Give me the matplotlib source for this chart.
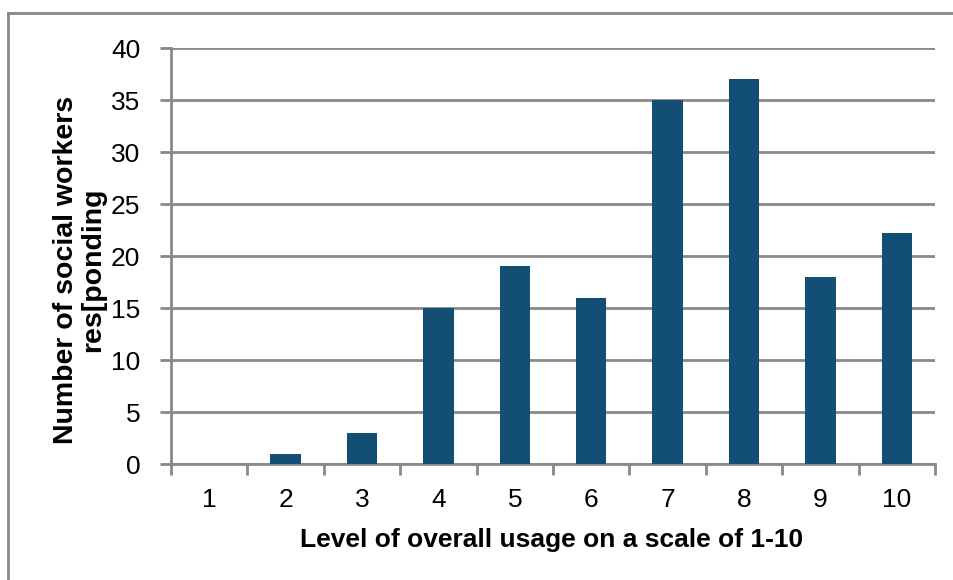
import matplotlib
matplotlib.use("Agg")
import matplotlib.pyplot as plt
from matplotlib.lines import Line2D

categories = ["1", "2", "3", "4", "5", "6", "7", "8", "9", "10"]
values = [0, 1, 3, 15, 19, 16, 35, 37, 18, 22.2]
y_ticks = [0, 5, 10, 15, 20, 25, 30, 35, 40]

plt.rcParams['font.family'] = ['Liberation Sans', 'DejaVu Sans']

W, H = 954, 580
fig = plt.figure(figsize=(W / 100, H / 100), dpi=100)
fig.patch.set_facecolor("white")

ax = fig.add_axes([171 / W, 1 - 464 / H, (935 - 171) / W, (464 - 48) / H])

bar_color = "#134f74"
grid_color = "#898989"

x = list(range(len(categories)))
ax.bar(x, values, width=0.4, color=bar_color, zorder=3)

ax.set_xlim(-0.5, len(categories) - 0.5)
ax.set_ylim(0, 40)
ax.set_yticks(y_ticks)
ax.set_yticklabels([str(v) for v in y_ticks], fontsize=19)
ax.set_xticks(x)
ax.set_xticklabels(categories, fontsize=19)

ax.yaxis.grid(True, color=grid_color, linewidth=2, zorder=0)
ax.set_axisbelow(True)

for s in ["top", "right"]:
    ax.spines[s].set_visible(False)
for s in ["left", "bottom"]:
    ax.spines[s].set_color(grid_color)
    ax.spines[s].set_linewidth(2)

ax.tick_params(axis="y", length=8, width=2, color=grid_color, pad=14)
ax.tick_params(axis="x", length=0, pad=17)
ax.set_xticks([i - 0.5 for i in range(len(categories) + 1)], minor=True)
ax.tick_params(axis="x", which="minor", length=8, width=2, color=grid_color)

fig.text(552 / W, 1 - 540 / H, "Level of overall usage on a scale of 1-10",
         fontsize=19, fontweight="bold", ha="center", va="center")
fig.text(80 / W, 1 - 270 / H, "Number of social workers\nres[ponding",
         fontsize=20.5, fontweight="bold", ha="center", va="center",
         rotation=90, linespacing=1.05, multialignment="center")

fig.add_artist(Line2D([8 / W, 1], [1 - 13 / H, 1 - 13 / H], color="#878787",
                      linewidth=2, transform=fig.transFigure))
fig.add_artist(Line2D([8 / W, 8 / W], [1 - 13 / H, 0], color="#878787",
                      linewidth=2, transform=fig.transFigure))

fig.savefig("out.png", dpi=100, facecolor="white")
